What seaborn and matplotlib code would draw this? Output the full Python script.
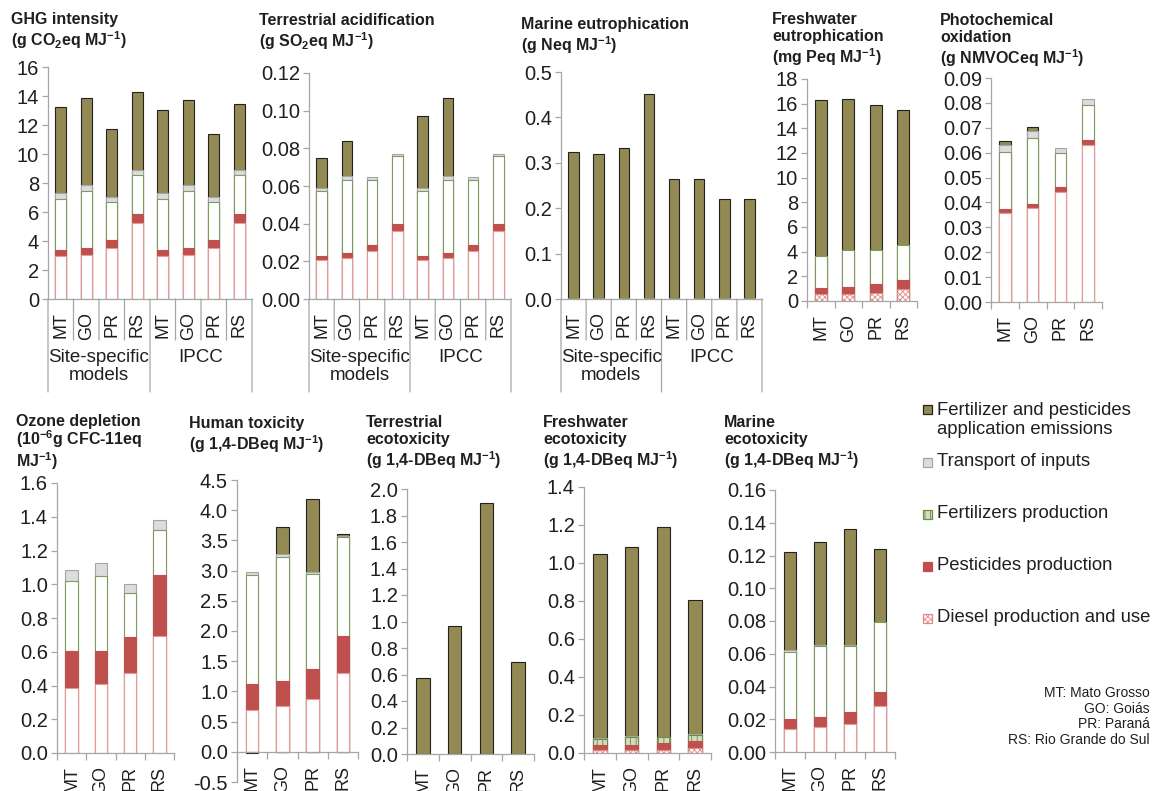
import numpy as np
import pandas as pd
import matplotlib
matplotlib.use("Agg")
import matplotlib.pyplot as plt
import seaborn as sns
from matplotlib.ticker import FormatStrFormatter, FixedLocator, MultipleLocator
from matplotlib.transforms import blended_transform_factory, offset_copy
from matplotlib.patches import Rectangle

sns.set_theme(style="white")
plt.rcParams["font.family"] = ["Liberation Sans", "DejaVu Sans"]
plt.rcParams["axes.unicode_minus"] = False
plt.rcParams["mathtext.fontset"] = "custom"
plt.rcParams["mathtext.rm"] = "Liberation Sans:bold"
plt.rcParams["mathtext.default"] = "rm"
plt.rcParams["hatch.linewidth"] = 0.6

# ---------------- data ----------------
regions = ["MT", "GO", "PR", "RS"]
regions8 = regions + regions
groups = ["Site-specific\nmodels", "IPCC"]
series = ["Diesel production and use", "Pesticides production", "Fertilizers production",
          "Transport of inputs", "Fertilizer and pesticides\napplication emissions"]
note = "MT: Mato Grosso\nGO: Goiás\nPR: Paraná\nRS: Rio Grande do Sul"

# GHG intensity (g CO2eq/MJ) - site-specific then IPCC
ghg_diesel = [2.94, 3.06, 3.52, 5.24, 2.94, 3.06, 3.52, 5.24]
ghg_pest = [0.46, 0.46, 0.57, 0.62, 0.46, 0.46, 0.57, 0.62]
ghg_fert = [3.50, 3.90, 2.60, 2.71, 3.50, 3.90, 2.60, 2.71]
ghg_transport = [0.41, 0.47, 0.32, 0.30, 0.41, 0.47, 0.32, 0.30]
ghg_emission = [5.93, 5.97, 4.74, 5.41, 5.75, 5.86, 4.37, 4.60]

# Terrestrial acidification (g SO2eq/MJ)
ta_diesel = [0.0205, 0.0218, 0.0253, 0.0363, 0.0205, 0.0218, 0.0253, 0.0363]
ta_pest = [0.0025, 0.0026, 0.0035, 0.0037, 0.0025, 0.0026, 0.0035, 0.0037]
ta_fert = [0.0342, 0.0390, 0.0346, 0.0358, 0.0342, 0.0390, 0.0346, 0.0358]
ta_transport = [0.0017, 0.0021, 0.0012, 0.0012, 0.0017, 0.0021, 0.0012, 0.0012]
ta_emission = [0.0160, 0.0182, 0.0, 0.0, 0.0381, 0.0412, 0.0, 0.0]

# Marine eutrophication (g Neq/MJ)
me_diesel = [0.0004, 0.0004, 0.0004, 0.0005, 0.0004, 0.0004, 0.0004, 0.0005]
me_pest = [0.0002, 0.0002, 0.0002, 0.0002, 0.0002, 0.0002, 0.0002, 0.0002]
me_fert = [0.0010, 0.0010, 0.0010, 0.0010, 0.0010, 0.0010, 0.0010, 0.0010]
me_transport = [0.0002, 0.0002, 0.0002, 0.0002, 0.0002, 0.0002, 0.0002, 0.0002]
me_emission = [0.321, 0.317, 0.331, 0.449, 0.263, 0.263, 0.219, 0.219]

# Freshwater eutrophication (mg Peq/MJ)
fe_diesel = [0.54, 0.54, 0.62, 0.95]
fe_pest = [0.49, 0.57, 0.79, 0.75]
fe_fert = [2.62, 3.03, 2.73, 2.84]
fe_transport = [0.02, 0.02, 0.02, 0.02]
fe_emission = [12.60, 12.24, 11.70, 10.93]

# Photochemical oxidation (g NMVOCeq/MJ)
po_diesel = [0.0359, 0.0379, 0.0442, 0.0629]
po_pest = [0.0013, 0.0016, 0.0020, 0.0021]
po_fert = [0.0231, 0.0264, 0.0137, 0.0143]
po_transport = [0.0029, 0.0028, 0.0021, 0.0023]
po_emission = [0.0014, 0.0016, 0.0, 0.0]

# Ozone depletion (1e-6 g CFC-11eq/MJ)
od_diesel = [0.385, 0.409, 0.474, 0.692]
od_pest = [0.218, 0.194, 0.212, 0.361]
od_fert = [0.415, 0.444, 0.263, 0.271]
od_transport = [0.069, 0.076, 0.053, 0.059]
od_emission = [0.0, 0.0, 0.0, 0.0]

# Human toxicity (g 1,4-DBeq/MJ)
ht_diesel = [0.70, 0.757, 0.867, 1.31]
ht_pest = [0.42, 0.41, 0.51, 0.60]
ht_fert = [1.81, 2.06, 1.56, 1.64]
ht_transport = [0.05, 0.05, 0.04, 0.02]
ht_emission = [-0.02, 0.44, 1.21, 0.03]

# Terrestrial ecotoxicity (g 1,4-DBeq/MJ)
te_diesel = [0.0, 0.0, 0.0, 0.0]
te_pest = [0.0, 0.0, 0.0, 0.0]
te_fert = [0.0, 0.0, 0.0, 0.0]
te_transport = [0.0, 0.0, 0.0, 0.0]
te_emission = [0.572, 0.967, 1.892, 0.695]

# Freshwater ecotoxicity (g 1,4-DBeq/MJ)
fw_diesel = [0.018, 0.018, 0.018, 0.026]
fw_pest = [0.022, 0.022, 0.035, 0.039]
fw_fert = [0.035, 0.044, 0.029, 0.031]
fw_transport = [0.004, 0.004, 0.002, 0.004]
fw_emission = [0.968, 0.994, 1.103, 0.706]

# Marine ecotoxicity (g 1,4-DBeq/MJ)
mx_diesel = [0.0143, 0.0153, 0.0173, 0.0281]
mx_pest = [0.0061, 0.0061, 0.0072, 0.0086]
mx_fert = [0.0407, 0.0432, 0.0401, 0.0424]
mx_transport = [0.0011, 0.0010, 0.0010, 0.0004]
mx_emission = [0.0601, 0.0628, 0.0704, 0.0444]

# ---------------- styles ----------------
W, H = 1153, 791
AXC = "#A6A6A6"
TXT = "#1f1f1f"
STY_PLAIN = [
    dict(color="white", edgecolor="#E59A98"),
    dict(color="#C0504D", edgecolor="#C0504D"),
    dict(color="white", edgecolor="#7E9A5C"),
    dict(color="#DCDCDE", edgecolor="#A5A5A5"),
    dict(color="#928A52", edgecolor="#222222"),
]
STY_HATCH_DIESEL = dict(color="white", edgecolor="#E08A88", hatch="xxxxxx")
STY_HATCH_FERT = dict(color="#D2DCC0", edgecolor="#6F8A48", hatch="|||")

fig = plt.figure(figsize=(W / 100, H / 100), dpi=100)


def add_ax(l, t, r, b):
    return fig.add_axes([l / W, 1 - b / H, (r - l) / W, (b - t) / H])


def draw_panel(box, vals, labels, ylim, step, fmt, title, title_xy,
               grouped=False, hatch_diesel=False, hatch_fert=False, title_ls=1.15):
    ax = add_ax(*box)
    arr = np.array(vals, dtype=float)
    n = arr.shape[1]
    pos = np.clip(arr, 0, None)
    neg = np.clip(arr, None, 0)
    cum = np.cumsum(pos, axis=0)
    x = np.arange(n)
    for k in range(4, -1, -1):
        keep = pos[k] > 0
        if not keep.any():
            continue
        st = dict(STY_PLAIN[k])
        if k == 0 and hatch_diesel:
            st = dict(STY_HATCH_DIESEL)
        if k == 2 and hatch_fert:
            st = dict(STY_HATCH_FERT)
        df = pd.DataFrame({"x": x[keep], "y": cum[k][keep]})
        sns.barplot(data=df, x="x", y="y", order=list(x), width=0.42, errorbar=None,
                    saturation=1, linewidth=0.8, ax=ax, **st)
    for k in range(5):
        keep = neg[k] < 0
        if not keep.any():
            continue
        df = pd.DataFrame({"x": x[keep], "y": neg[k][keep]})
        sns.barplot(data=df, x="x", y="y", order=list(x), width=0.42, errorbar=None,
                    saturation=1, linewidth=0.8, ax=ax, **STY_PLAIN[k])

    ax.set_xlim(-0.5, n - 0.5)
    ax.set_ylim(*ylim)
    ax.set_xlabel("")
    ax.set_ylabel("")
    ax.set_facecolor("none")
    for s in ["top", "right"]:
        ax.spines[s].set_visible(False)
    for s in ["left", "bottom"]:
        ax.spines[s].set_color(AXC)
        ax.spines[s].set_linewidth(0.9)
    if ylim[0] < 0:
        ax.spines["bottom"].set_position(("data", 0))
    ax.yaxis.set_major_locator(MultipleLocator(step))
    ax.yaxis.set_major_formatter(FormatStrFormatter(fmt))
    ax.tick_params(axis="y", which="major", left=True, length=4, width=0.9, color=AXC,
                   labelsize=14.5, labelcolor=TXT, pad=2.5, direction="out")
    ax.xaxis.set_major_locator(FixedLocator(x))
    ax.set_xticklabels(labels, rotation=90, fontsize=13, color=TXT)
    ax.tick_params(axis="x", which="major", length=0, pad=9.5)
    ax.xaxis.set_minor_locator(FixedLocator(np.arange(n + 1) - 0.5))
    if grouped:
        ax.tick_params(axis="x", which="minor", length=0)
        tr = blended_transform_factory(ax.transData, ax.transAxes)
        for b in np.arange(n + 1) - 0.5:
            long = b in (-0.5, n / 2 - 0.5, n - 0.5)
            depth = 93 if long else 41
            t0 = offset_copy(tr, fig=fig, x=0, y=0, units="dots")
            t1 = offset_copy(tr, fig=fig, x=0, y=-depth, units="dots")
            ax.annotate("", xy=(b, 0), xycoords=t0, xytext=(b, 0), textcoords=t1,
                        arrowprops=dict(arrowstyle="-", color=AXC, lw=0.9,
                                        shrinkA=0, shrinkB=0), annotation_clip=False)
        for gi, g in enumerate(groups):
            gx = (n / 2) * gi + (n / 2 - 1) / 2
            ax.text(gx, 0, g, transform=offset_copy(tr, fig=fig, y=-50, units="dots"),
                    ha="center", va="top", fontsize=13.5, color=TXT, linespacing=1.05)
    else:
        ax.tick_params(axis="x", which="minor", bottom=True, length=5, width=0.9,
                       color=AXC, direction="out")
    fig.text(title_xy[0] / W, 1 - title_xy[1] / H, title, ha="left", va="top",
             fontsize=11.5, fontweight="bold", color=TXT, linespacing=title_ls)
    return ax


draw_panel((48, 67, 252, 299),
           [ghg_diesel, ghg_pest, ghg_fert, ghg_transport, ghg_emission], regions8,
           (0, 16), 2, "%d", "GHG intensity\n(g CO$_2$eq MJ$^{-1}$)", (11, 12), grouped=True)
draw_panel((309, 73, 511, 299),
           [ta_diesel, ta_pest, ta_fert, ta_transport, ta_emission], regions8,
           (0, 0.12), 0.02, "%.2f", "Terrestrial acidification\n(g SO$_2$eq MJ$^{-1}$)",
           (259, 13), grouped=True)
draw_panel((561, 72, 762, 299),
           [me_diesel, me_pest, me_fert, me_transport, me_emission], regions8,
           (0, 0.5), 0.1, "%.1f", "Marine eutrophication\n(g Neq MJ$^{-1}$)",
           (521, 17), grouped=True)
draw_panel((807, 79, 917, 301),
           [fe_diesel, fe_pest, fe_fert, fe_transport, fe_emission], regions,
           (0, 18), 2, "%d", "Freshwater\neutrophication\n(mg Peq MJ$^{-1}$)",
           (772, 12), hatch_diesel=True)
draw_panel((991, 78, 1102, 302),
           [po_diesel, po_pest, po_fert, po_transport, po_emission], regions,
           (0, 0.09), 0.01, "%.2f", "Photochemical\noxidation\n(g NMVOCeq MJ$^{-1}$)",
           (940, 13))
draw_panel((57, 483, 174, 753),
           [od_diesel, od_pest, od_fert, od_transport, od_emission], regions,
           (0, 1.6), 0.2, "%.1f", "Ozone depletion\n(10$^{-6}$g CFC-11eq\nMJ$^{-1}$)",
           (16, 414), title_ls=0.98)
draw_panel((237, 480, 358, 782),
           [ht_diesel, ht_pest, ht_fert, ht_transport, ht_emission], regions,
           (-0.5, 4.5), 0.5, "%.1f", "Human toxicity\n(g 1,4-DBeq MJ$^{-1}$)",
           (189, 416))
draw_panel((407, 489, 534, 754),
           [te_diesel, te_pest, te_fert, te_transport, te_emission], regions,
           (0, 2.0), 0.2, "%.1f", "Terrestrial\necotoxicity\n(g 1,4-DBeq MJ$^{-1}$)",
           (366, 415))
draw_panel((584, 487, 711, 753),
           [fw_diesel, fw_pest, fw_fert, fw_transport, fw_emission], regions,
           (0, 1.4), 0.2, "%.1f", "Freshwater\necotoxicity\n(g 1,4-DBeq MJ$^{-1}$)",
           (543, 415), hatch_diesel=True, hatch_fert=True)
draw_panel((775, 490, 895, 752),
           [mx_diesel, mx_pest, mx_fert, mx_transport, mx_emission], regions,
           (0, 0.16), 0.02, "%.2f", "Marine\necotoxicity\n(g 1,4-DBeq MJ$^{-1}$)",
           (724, 415))

# ---------------- legend ----------------
leg_styles = [STY_HATCH_DIESEL, STY_PLAIN[1], STY_HATCH_FERT, STY_PLAIN[3], STY_PLAIN[4]]
leg_y = [618, 566, 514, 462, 409]
text_y = [618, 566, 514, 462, 420]
for k in range(5):
    st = dict(leg_styles[k])
    fc = st.pop("color")
    ec = st.pop("edgecolor")
    hatch = st.pop("hatch", None)
    s = 9
    fig.add_artist(Rectangle(((927 - s / 2) / W, 1 - (leg_y[k] + s / 2) / H), s / W, s / H,
                             transform=fig.transFigure, facecolor=fc, edgecolor=ec,
                             hatch=hatch, linewidth=0.9))
    fig.text(937 / W, 1 - text_y[k] / H, series[k], ha="left", va="center",
             fontsize=13.3, color=TXT, linespacing=1.15)

fig.text(1150 / W, 1 - 686 / H, note, ha="right", va="top", fontsize=10,
         color=TXT, linespacing=1.15)

fig.savefig("out.png", dpi=100)
